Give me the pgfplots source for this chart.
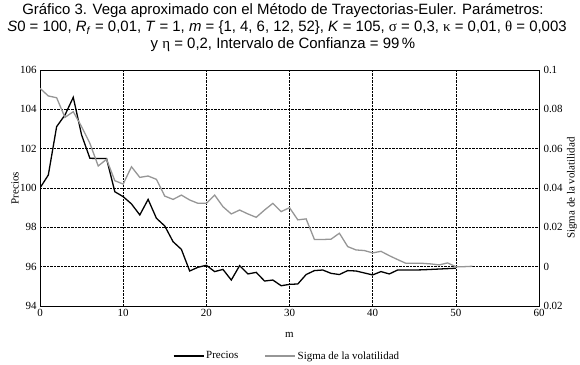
\documentclass[border=0pt]{standalone}
\usepackage{pgfplots}
\pgfplotsset{compat=1.18}
\usepackage{fontspec}
\setmainfont{Liberation Serif}
\newfontfamily\titlefont{Liberation Sans}
\definecolor{sigmagray}{RGB}{150,150,150}
\begin{document}
\begin{tikzpicture}
\path[use as bounding box] (-40bp,-59bp) rectangle (540bp,306bp);
\begin{axis}[
  at={(0bp,0bp)}, anchor=south west,
  scale only axis, width=499bp, height=236bp,
  xmin=0, xmax=60, ymin=94, ymax=106,
  xtick={0,10,20,30,40,50,60}, ytick={94,96,98,100,102,104,106},
  grid=major,
  major grid style={black, dash pattern=on 2.5pt off 1pt, line width=0.5pt},
  tick style={draw=none},
  axis line style={black, line width=0.8pt},
  ticklabel style={font=\fontsize{11}{13}\selectfont},
  /pgf/number format/assume math mode=true,
  xlabel={m}, ylabel={Precios},
  xlabel style={at={(axis description cs:0.5,0)}, anchor=center, yshift=-29bp, font=\fontsize{11}{13}\selectfont},
  ylabel style={at={(axis description cs:-0.0501,0.5)}, anchor=center, font=\fontsize{11}{13}\selectfont},
]
\addplot[black, line width=1.3pt] coordinates {
(0,100.0) (1,100.66) (2,103.12) (3,103.71) (4,104.61) (5,102.7) (6,101.51) (7,101.5) (8,101.5) (9,99.81)
(10,99.56) (11,99.19) (12,98.63) (13,99.42) (14,98.46) (15,98.07) (16,97.27) (17,96.88) (18,95.78) (19,95.97)
(20,96.07) (21,95.75) (22,95.86) (23,95.32) (24,96.05) (25,95.63) (26,95.71) (27,95.27) (28,95.32) (29,95.03)
(30,95.1) (31,95.12) (32,95.6) (33,95.8) (34,95.83) (35,95.66) (36,95.6) (37,95.8) (38,95.78) (39,95.68)
(40,95.58) (41,95.75) (42,95.63) (43,95.83) (44,95.83) (45,95.83) (46,95.84) (47,95.86) (48,95.88) (49,95.9)
(50,95.92)
};
\end{axis}
\begin{axis}[
  at={(0bp,0bp)}, anchor=south west,
  scale only axis, width=499bp, height=236bp,
  xmin=0, xmax=60, ymin=-0.02, ymax=0.1,
  axis x line=none, axis y line*=right,
  ytick={-0.02,0,0.02,0.04,0.06,0.08,0.1},
  yticklabels={0.02,0,0.02,0.04,0.06,0.08,0.1},
  tick style={draw=none},
  axis line style={black, line width=0.8pt},
  ticklabel style={font=\fontsize{11}{13}\selectfont},
  yticklabel style={xshift=1bp},
  ylabel={Sigma de la volatilidad},
  ylabel style={at={(axis description cs:1.0661,0.5)}, anchor=center, font=\fontsize{11}{13}\selectfont},
  legend columns=2,
  legend style={at={(axis description cs:0.495,-0.212)}, anchor=center, draw=none, fill=none,
    font=\fontsize{11}{13}\selectfont,
    /tikz/every even column/.append style={column sep=24bp}},
  legend image code/.code={\draw[#1] (0bp,0bp) -- (30bp,0bp);},
]
\addlegendimage{black, line width=1.3pt}
\addlegendentry{Precios}
\addplot[sigmagray, line width=1.3pt] coordinates {
(0,0.0907) (1,0.0868) (2,0.0859) (3,0.0759) (4,0.0788) (5,0.0712) (6,0.0627) (7,0.0512) (8,0.0546) (9,0.0437)
(10,0.042) (11,0.0508) (12,0.0454) (13,0.0461) (14,0.0444) (15,0.0359) (16,0.0342) (17,0.0364) (18,0.0339) (19,0.0322)
(20,0.0322) (21,0.0364) (22,0.0305) (23,0.0268) (24,0.0288) (25,0.0268) (26,0.0251) (27,0.0288) (28,0.0322) (29,0.028)
(30,0.0300) (31,0.0238) (32,0.0243) (33,0.0138) (34,0.0138) (35,0.014) (36,0.017) (37,0.0102) (38,0.0085) (39,0.0082)
(40,0.007) (41,0.0078) (42,0.0056) (43,0.0036) (44,0.0017) (45,0.0017) (46,0.0017) (47,0.0014) (48,0.0009) (49,0.0019)
(50,0.0) (51,0.0) (52,0.0002)
};
\addlegendentry{Sigma de la volatilidad}
\end{axis}
\node[anchor=base, font=\titlefont\fontsize{15}{17}\selectfont] at (243bp,291bp)
  {Gráfico 3. Vega aproximado con el Método de Trayectorias-Euler. Parámetros:};
\node[anchor=base, font=\titlefont\fontsize{15}{17}\selectfont] at (247bp,274bp)
  {\textit{S}0 = 100, \textit{R}\textsubscript{\textit{f}} = 0,01, \textit{T} = 1, \textit{m} = \{1, 4, 6, 12, 52\}, \textit{K} = 105, {\rmfamily σ} = 0,3, {\rmfamily κ} = 0,01, {\rmfamily θ} = 0,003};
\node[anchor=base, font=\titlefont\fontsize{15}{17}\selectfont] at (243bp,257bp)
  {y {\rmfamily η} = 0,2, Intervalo de Confianza = 99\,\%};
\end{tikzpicture}
\end{document}
